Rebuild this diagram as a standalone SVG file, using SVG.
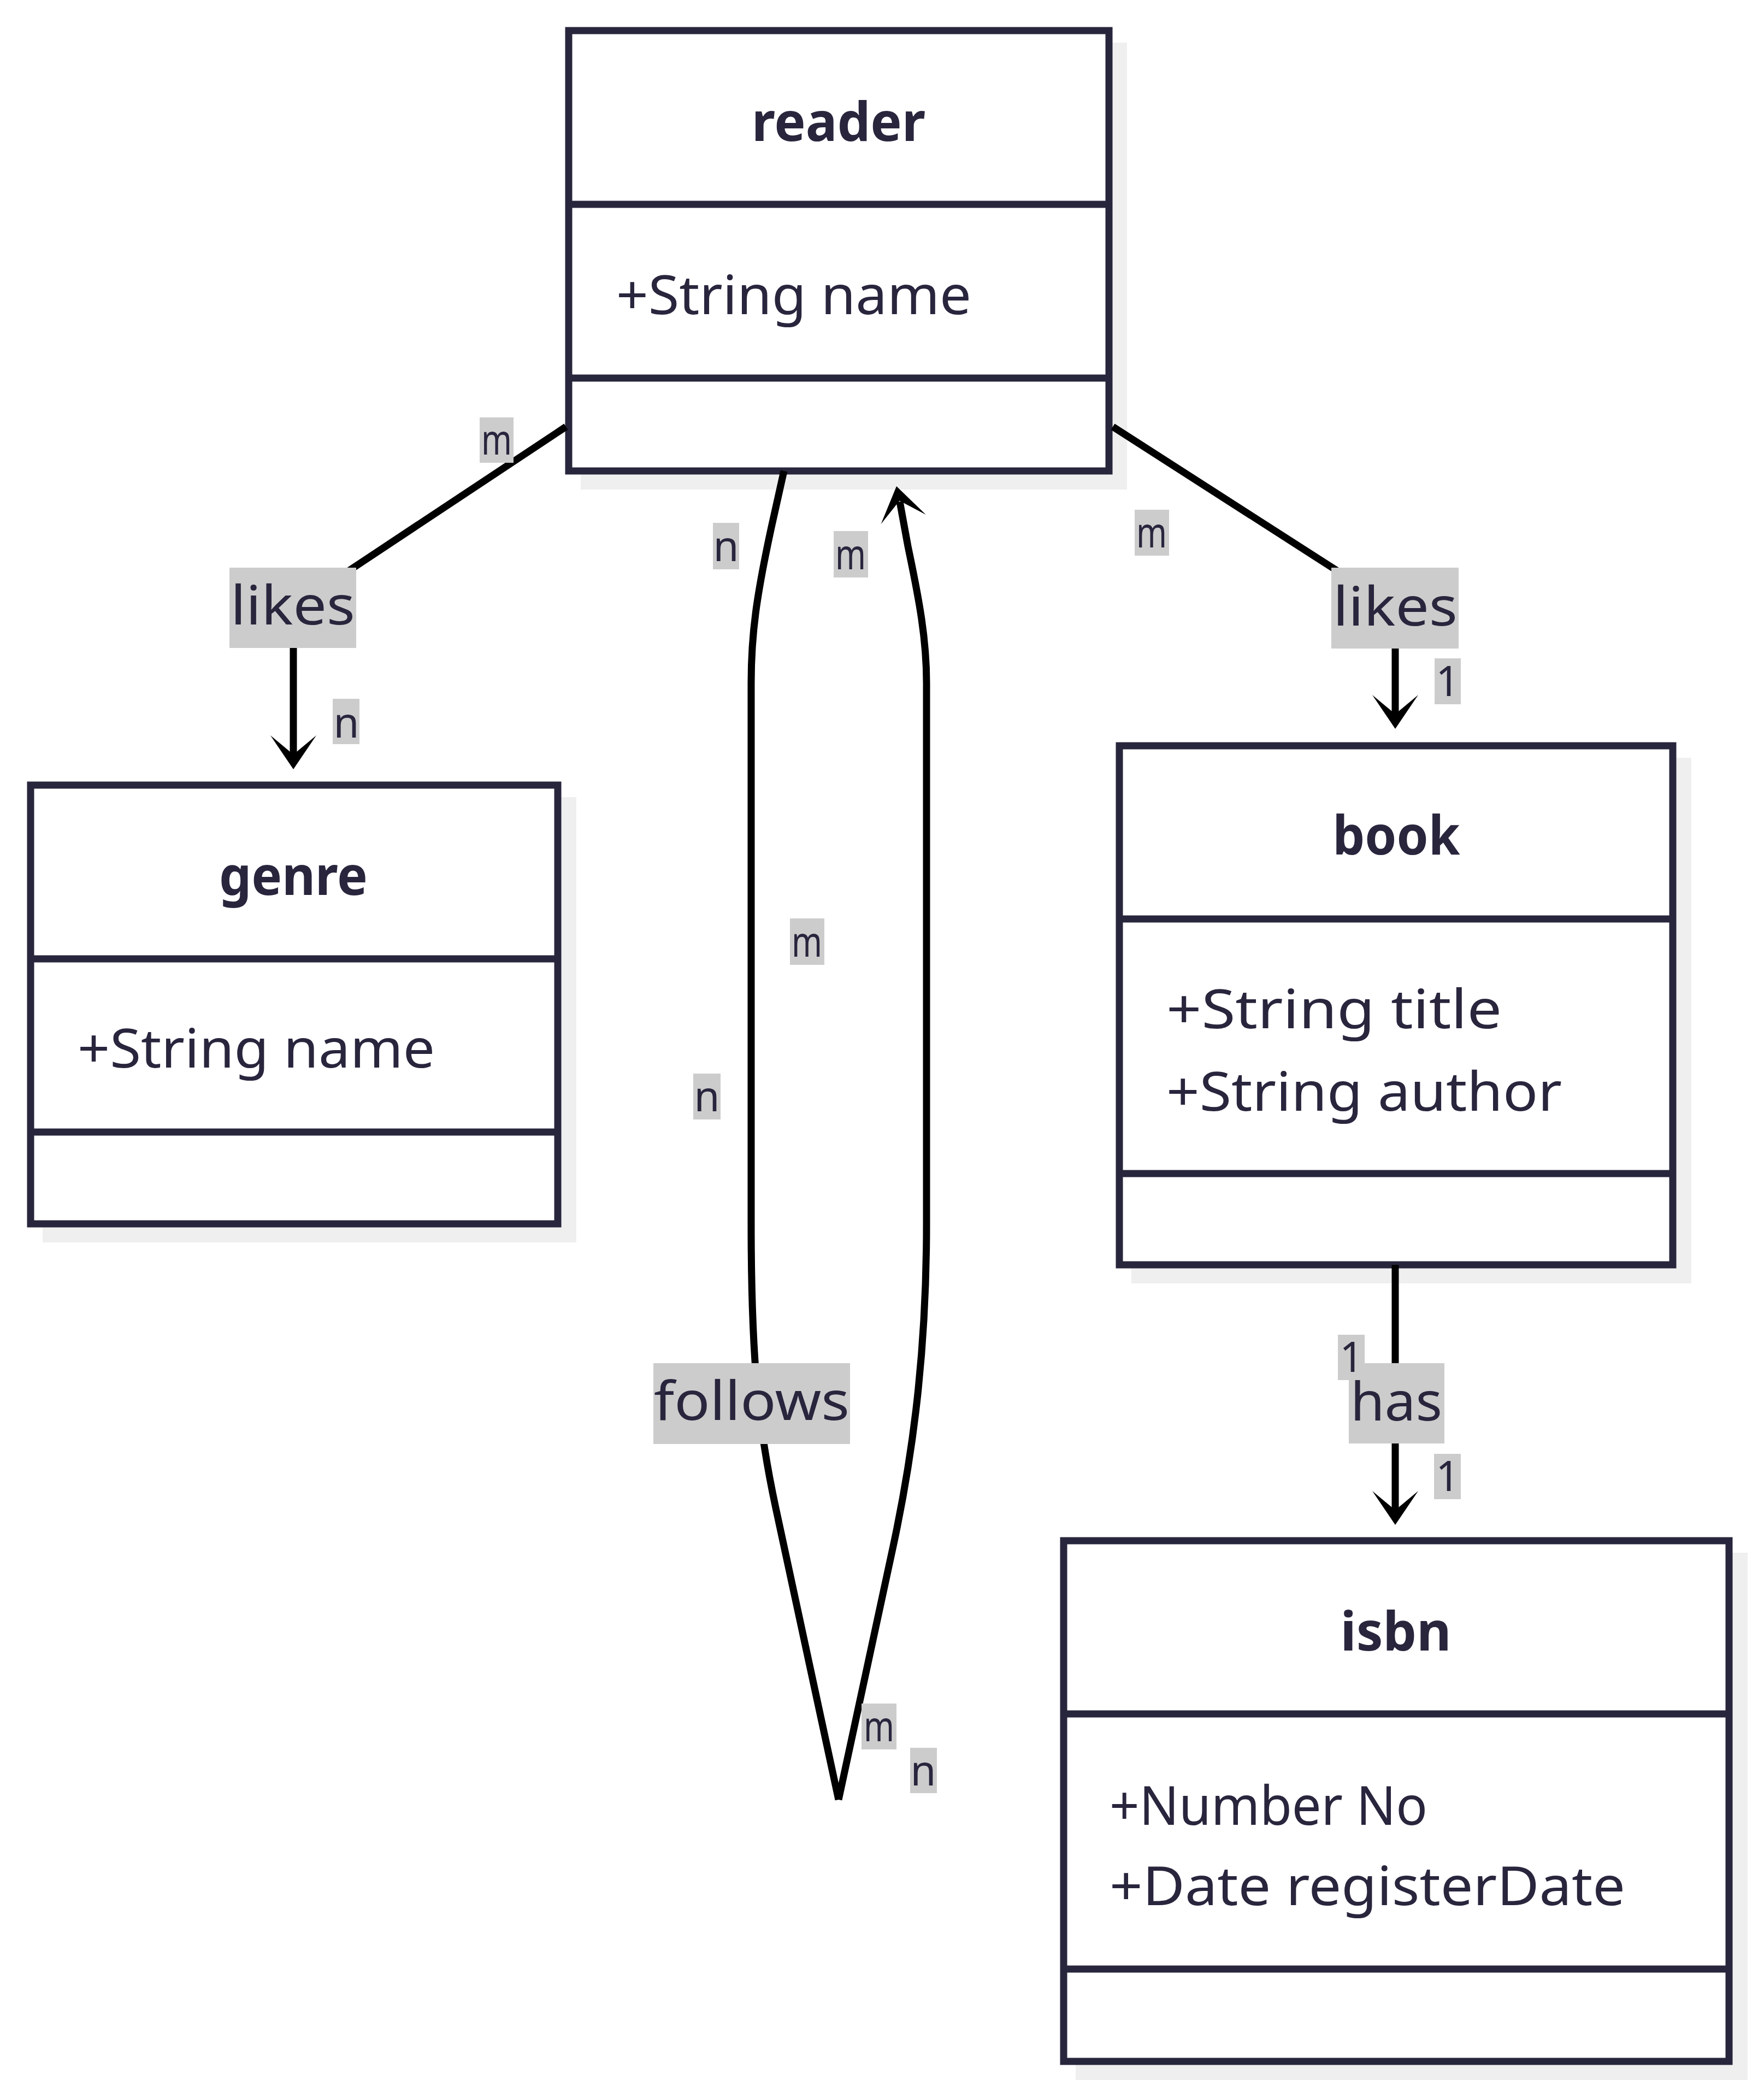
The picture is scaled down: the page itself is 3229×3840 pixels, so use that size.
<svg xmlns="http://www.w3.org/2000/svg" width="3229" height="3840" viewBox="0 0 3229 3840">
<style>
.shadow{fill:#efefef;stroke:none}
.box{fill:#ffffff;stroke:#28263c;stroke-width:13}
.div{stroke:#28263c;stroke-width:13}
.title{font-family:"Noto Sans","Open Sans",sans-serif;font-weight:bold;font-size:98px;fill:#28253d;text-anchor:middle}
.attr{font-family:"Noto Sans","Open Sans",sans-serif;font-size:98px;fill:#28253d}
.edge{fill:none;stroke:#000000;stroke-width:13}
.head{fill:#000000;stroke:none}
.lbg{fill:#cccccc}
.elabel{font-family:"Noto Sans","Open Sans",sans-serif;font-size:98px;fill:#28253d;text-anchor:middle}
.card{font-family:"Noto Sans","Open Sans",sans-serif;font-size:76px;fill:#28253d;text-anchor:middle}
</style>
<defs>
<polygon id="arrow" points="0,0 -42,-62 0,-27 42,-62"/>
</defs>
<rect width="3229" height="3840" fill="#ffffff"/>

<g id="reader">
<rect class="shadow" x="1063" y="78" width="1000" height="818"/>
<rect class="box" x="1041" y="56" width="989" height="806"/>
<line class="div" x1="1041" y1="374" x2="2030" y2="374"/>
<line class="div" x1="1041" y1="692" x2="2030" y2="692"/>
<text class="title" x="1535" y="258" textLength="318" lengthAdjust="spacingAndGlyphs">reader</text>
<text class="attr" x="1128" y="575" textLength="650" lengthAdjust="spacingAndGlyphs">+String name</text>
</g>

<g id="genre">
<rect class="shadow" x="78" y="1459" width="977" height="815"/>
<rect class="box" x="56" y="1437" width="965" height="803"/>
<line class="div" x1="56" y1="1755" x2="1021" y2="1755"/>
<line class="div" x1="56" y1="2072" x2="1021" y2="2072"/>
<text class="title" x="537" y="1638" textLength="272" lengthAdjust="spacingAndGlyphs">genre</text>
<text class="attr" x="142" y="1954" textLength="654" lengthAdjust="spacingAndGlyphs">+String name</text>
</g>

<g id="book">
<rect class="shadow" x="2071" y="1387" width="1025" height="962"/>
<rect class="box" x="2049" y="1365" width="1013" height="950"/>
<line class="div" x1="2049" y1="1682" x2="3062" y2="1682"/>
<line class="div" x1="2049" y1="2148" x2="3062" y2="2148"/>
<text class="title" x="2556" y="1564" textLength="233" lengthAdjust="spacingAndGlyphs">book</text>
<text class="attr" x="2135" y="1882" textLength="614" lengthAdjust="spacingAndGlyphs">+String title</text>
<text class="attr" x="2135" y="2033" textLength="724" lengthAdjust="spacingAndGlyphs">+String author</text>
</g>

<g id="isbn">
<rect class="shadow" x="1969" y="2842" width="1230" height="965"/>
<rect class="box" x="1947" y="2820" width="1218" height="953"/>
<line class="div" x1="1947" y1="3137" x2="3165" y2="3137"/>
<line class="div" x1="1947" y1="3604" x2="3165" y2="3604"/>
<text class="title" x="2555" y="3021" textLength="203" lengthAdjust="spacingAndGlyphs">isbn</text>
<text class="attr" x="2031" y="3340" textLength="582" lengthAdjust="spacingAndGlyphs">+Number No</text>
<text class="attr" x="2031" y="3487" textLength="944" lengthAdjust="spacingAndGlyphs">+Date registerDate</text>
</g>

<g id="connectors">
<path class="edge" d="M1036,781 L537,1112 L537,1382"/>
<use href="#arrow" class="head" transform="translate(537,1408)"/>
<path class="edge" d="M2037,781 L2554,1113 L2554,1308"/>
<use href="#arrow" class="head" transform="translate(2554,1334)"/>
<path class="edge" d="M2554,2315 L2554,2765"/>
<use href="#arrow" class="head" transform="translate(2554,2791)"/>
<path class="edge" d="M1435,862 L1412,965 C1385,1090 1375,1160 1375,1250 L1375,2240 C1375,2500 1390,2620 1420,2760 L1535,3294"/>
<path class="edge" d="M1535,3294 L1635,2830 C1665,2690 1696,2500 1696,2240 L1696,1250 C1696,1170 1683,1100 1662,1000 L1647,918"/>
<use href="#arrow" class="head" transform="translate(1641,890) rotate(168.2)"/>
</g>

<g id="edge-labels">
<rect class="lbg" x="420" y="1039" width="232" height="147"/>
<text class="elabel" x="536" y="1143" textLength="228" lengthAdjust="spacingAndGlyphs">likes</text>
<rect class="lbg" x="2437" y="1039" width="233" height="148"/>
<text class="elabel" x="2554" y="1145" textLength="228" lengthAdjust="spacingAndGlyphs">likes</text>
<rect class="lbg" x="1196" y="2495" width="360" height="148"/>
<text class="elabel" x="1376" y="2599" textLength="358" lengthAdjust="spacingAndGlyphs">follows</text>
<rect class="lbg" x="2469" y="2495" width="175" height="147"/>
<text class="elabel" x="2556" y="2600" textLength="168" lengthAdjust="spacingAndGlyphs">has</text>
</g>

<g id="cardinality">
<rect class="lbg" x="878" y="764" width="62" height="83"/>
<text class="card" x="909" y="832" textLength="56" lengthAdjust="spacingAndGlyphs">m</text>
<rect class="lbg" x="609" y="1279" width="49" height="83"/>
<text class="card" x="634" y="1350">n</text>
<rect class="lbg" x="2077" y="933" width="63" height="84"/>
<text class="card" x="2108" y="1002" textLength="56" lengthAdjust="spacingAndGlyphs">m</text>
<rect class="lbg" x="2626" y="1205" width="48" height="84"/>
<text class="card" x="2650" y="1274">1</text>
<rect class="lbg" x="2449" y="2443" width="49" height="83"/>
<text class="card" x="2474" y="2511">1</text>
<rect class="lbg" x="2625" y="2661" width="49" height="83"/>
<text class="card" x="2650" y="2729">1</text>
<rect class="lbg" x="1305" y="957" width="48" height="85"/>
<text class="card" x="1329" y="1027">n</text>
<rect class="lbg" x="1526" y="972" width="63" height="85"/>
<text class="card" x="1557" y="1042" textLength="56" lengthAdjust="spacingAndGlyphs">m</text>
<rect class="lbg" x="1446" y="1681" width="63" height="85"/>
<text class="card" x="1477" y="1751" textLength="56" lengthAdjust="spacingAndGlyphs">m</text>
<rect class="lbg" x="1269" y="1965" width="50" height="84"/>
<text class="card" x="1294" y="2034">n</text>
<rect class="lbg" x="1577" y="3118" width="64" height="84"/>
<text class="card" x="1609" y="3187" textLength="56" lengthAdjust="spacingAndGlyphs">m</text>
<rect class="lbg" x="1666" y="3199" width="49" height="83"/>
<text class="card" x="1690" y="3268">n</text>
</g>
</svg>
